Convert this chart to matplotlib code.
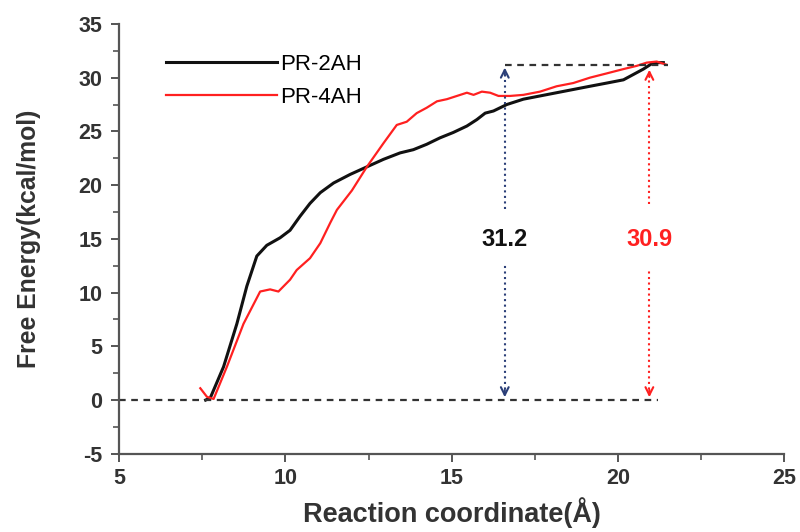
import matplotlib
matplotlib.use("Agg")
import matplotlib.pyplot as plt
import numpy as np

plt.rcParams["font.family"] = ["Liberation Sans", "DejaVu Sans"]
plt.rcParams["axes.unicode_minus"] = False

# PR-2AH (black)
x_2ah = [7.60, 7.74, 8.14, 8.54, 8.84, 9.14, 9.44, 9.84, 10.14, 10.44, 10.74, 11.05,
         11.45, 11.95, 12.45, 12.95, 13.45, 13.85, 14.25, 14.65, 15.05, 15.46, 15.76,
         16.01, 16.26, 16.66, 17.16, 17.66, 18.16, 18.66, 19.16, 19.67, 20.17, 20.47,
         20.77, 21.07, 21.37]
y_2ah = [0.0, 0.2, 3.1, 7.1, 10.6, 13.4, 14.4, 15.1, 15.8, 17.1, 18.3, 19.3,
         20.2, 21.0, 21.7, 22.4, 23.0, 23.3, 23.8, 24.4, 24.9, 25.5, 26.1,
         26.7, 26.9, 27.5, 28.0, 28.3, 28.6, 28.9, 29.2, 29.5, 29.8, 30.3,
         30.8, 31.4, 31.4]

# PR-4AH (red)
x_4ah = [7.44, 7.64, 7.84, 8.24, 8.74, 9.24, 9.54, 9.79, 10.14, 10.34, 10.74, 11.05,
         11.35, 11.55, 12.0, 12.45, 12.95, 13.35, 13.65, 13.95, 14.25, 14.56, 14.86, 15.16,
         15.46, 15.66, 15.91, 16.16, 16.41, 16.76, 17.16, 17.66, 18.16, 18.66, 19.16,
         19.67, 20.17, 20.57, 20.87, 21.17, 21.47]
y_4ah = [1.1, 0.3, 0.1, 3.1, 7.1, 10.1, 10.3, 10.1, 11.2, 12.1, 13.2, 14.6,
         16.5, 17.7, 19.5, 21.7, 23.9, 25.6, 25.9, 26.7, 27.2, 27.8, 28.0, 28.3,
         28.6, 28.4, 28.7, 28.6, 28.3, 28.3, 28.4, 28.7, 29.2, 29.5, 30.0,
         30.4, 30.8, 31.1, 31.4, 31.5, 31.2]

barrier_2ah = 31.2
barrier_4ah = 30.9
x_arrow_2ah = 16.6
x_arrow_4ah = 20.95

fig = plt.figure(figsize=(8, 5.32), dpi=100)
ax = fig.add_axes([0.149, 0.147, 0.831, 0.808])

ax.plot(x_2ah, y_2ah, color="#111111", lw=2.2, label="PR-2AH")
ax.plot(x_4ah, y_4ah, color="#ff2020", lw=1.6, label="PR-4AH")

# dashed reference lines
ax.plot([5, 21.2], [0, 0], color="#333333", lw=1.6, ls=(0, (3, 2.5)))
ax.plot([16.6, 21.5], [barrier_2ah, barrier_2ah], color="#333333", lw=1.6, ls=(0, (3, 2.5)))

blue = "#2b3f78"
red = "#ff2020"
for xa, val, col, gap_hi, gap_lo in [(x_arrow_2ah, barrier_2ah, blue, 17.8, 12.6),
                                     (x_arrow_4ah, 31.0, red, 18.2, 12.1)]:
    ax.plot([xa, xa], [gap_hi, val - 0.5], color=col, lw=1.5, ls=":")
    ax.plot([xa, xa], [0.5, gap_lo], color=col, lw=1.5, ls=":")
    ax.annotate("", xy=(xa, val), xytext=(xa, val - 1.2),
                arrowprops=dict(arrowstyle="->", color=col, lw=1.5,
                                mutation_scale=14))
    ax.annotate("", xy=(xa, 0), xytext=(xa, 1.2),
                arrowprops=dict(arrowstyle="->", color=col, lw=1.5,
                                mutation_scale=14))

ax.text(x_arrow_2ah, 14.9, "31.2", ha="center", va="center", fontsize=17,
        fontweight="bold", color="#111111")
ax.text(x_arrow_4ah, 14.9, "30.9", ha="center", va="center", fontsize=17,
        fontweight="bold", color=red)

ax.set_xlim(5, 25)
ax.set_ylim(-5, 35)
ax.set_xticks([5, 10, 15, 20, 25])
ax.set_yticks(np.arange(-5, 36, 5))
ax.set_xticks(np.arange(7.5, 25, 5), minor=True)
ax.set_yticks(np.arange(-2.5, 35, 5), minor=True)

for s in ["top", "right"]:
    ax.spines[s].set_visible(False)
for s in ["left", "bottom"]:
    ax.spines[s].set_color("#555555")
    ax.spines[s].set_linewidth(1.6)

ax.tick_params(which="major", direction="out", length=6, width=1.4, color="#555555",
               labelsize=15.5, pad=6)
ax.tick_params(axis="x", which="major", pad=4)
ax.tick_params(which="minor", direction="out", length=4, width=1.2, color="#555555")
for lab in ax.get_xticklabels() + ax.get_yticklabels():
    lab.set_fontweight("bold")
    lab.set_color("#333333")

ax.set_xlabel("Reaction coordinate(Å)", fontsize=19.5, fontweight="bold", color="#333333",
              labelpad=6)
ax.set_ylabel("Free Energy(kcal/mol)", fontsize=17.8, fontweight="bold", color="#333333",
              labelpad=27)

leg = ax.legend(loc="upper left", bbox_to_anchor=(0.04, 0.977), frameon=False,
                fontsize=16, handlelength=5.0, handletextpad=0.15, labelspacing=0.55)

fig.savefig("out.png", dpi=100)
